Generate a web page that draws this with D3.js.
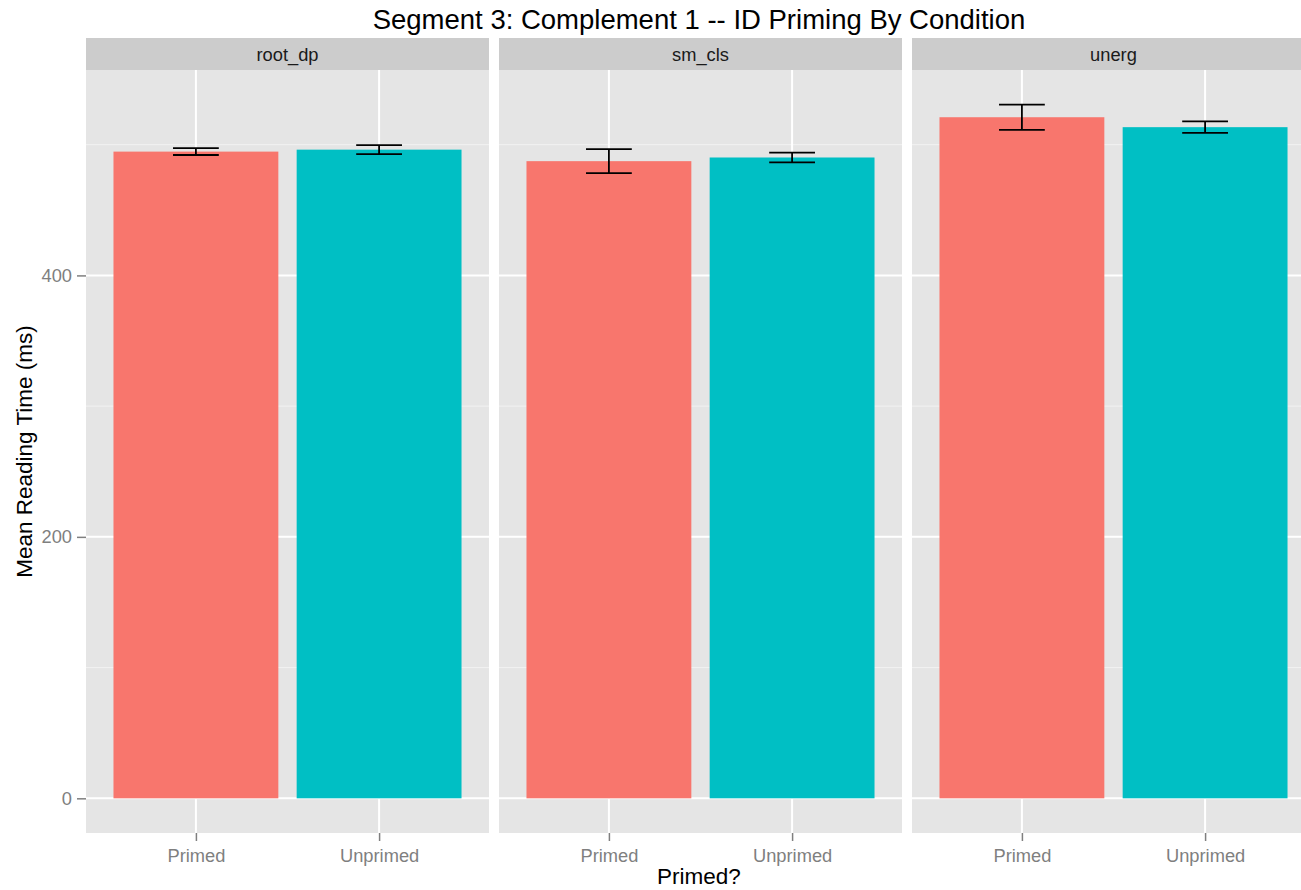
<!DOCTYPE html>
<html>
<head>
<meta charset="utf-8">
<script src="https://cdn.jsdelivr.net/npm/d3@7"></script>
<style>
  html, body { margin: 0; padding: 0; background: #fff; overflow: hidden; }
  svg { display: block; font-family: "Liberation Sans", Arial, Helvetica, sans-serif; }
</style>
</head>
<body>
<svg id="chart" width="1301" height="890"></svg>
<script>
// Facets, x categories, and per-cell mean reading time with standard error
const conditions = ["root_dp", "sm_cls", "unerg"];
const primedLevels = ["Primed", "Unprimed"];
const meanRT = [
  [494.7, 496.2],   // root_dp
  [487.4, 490.2],   // sm_cls
  [521.0, 513.4]    // unerg
];
const seRT = [
  [2.6, 3.4],
  [9.2, 3.8],
  [9.6, 4.4]
];
const yTicks = [0, 200, 400];
const yMinor = [100, 300, 500];
const fillColors = ["#F8766D", "#00BFC4"];

const titleText = "Segment 3: Complement 1 -- ID Priming By Condition";
const xTitle = "Primed?";
const yTitle = "Mean Reading Time (ms)";

const rows = [];
conditions.forEach((c, i) => primedLevels.forEach((p, j) => {
  rows.push({ cond: c, primed: p, mean: meanRT[i][j], se: seRT[i][j] });
}));

const svg = d3.select("#chart");
const panelTop = 70, panelBottom = 833, stripTop = 38;

// facet panels across the page
const facetX = d3.scaleBand()
  .domain(conditions)
  .range([86, 1315])
  .paddingInner(10 / 413);

// discrete x within a panel (bar width 0.9, ggplot-style expansion)
const innerX = d3.scaleBand()
  .domain(primedLevels)
  .range([0, facetX.bandwidth()])
  .paddingInner(0.1)
  .paddingOuter(0.15);

const yMax = d3.max(rows, d => d.mean + d.se);
const pad = yMax * 0.05;
const y = d3.scaleLinear()
  .domain([-pad, yMax + pad])
  .range([panelBottom, panelTop]);

const color = d3.scaleOrdinal().domain(primedLevels).range(fillColors);

const step = innerX.step();
const center = p => innerX(p) + innerX.bandwidth() / 2;

conditions.forEach(cond => {
  const g = svg.append("g").attr("transform", `translate(${facetX(cond)},0)`);
  const w = facetX.bandwidth();

  // strip
  g.append("rect").attr("x", 0).attr("y", stripTop).attr("width", w)
    .attr("height", panelTop - stripTop).attr("fill", "#cccccc");
  g.append("text").attr("x", w / 2).attr("y", 61).attr("text-anchor", "middle")
    .attr("font-size", 18.3).attr("fill", "#1a1a1a").text(cond);

  // panel background and grid
  g.append("rect").attr("x", 0).attr("y", panelTop).attr("width", w)
    .attr("height", panelBottom - panelTop).attr("fill", "#e5e5e5");
  g.selectAll(".minor").data(yMinor).join("line")
    .attr("x1", 0).attr("x2", w).attr("y1", d => y(d)).attr("y2", d => y(d))
    .attr("stroke", "#f2f2f2").attr("stroke-width", 1);
  g.selectAll(".major").data(yTicks).join("line")
    .attr("x1", 0).attr("x2", w).attr("y1", d => y(d)).attr("y2", d => y(d))
    .attr("stroke", "#ffffff").attr("stroke-width", 2);
  g.selectAll(".vmajor").data(primedLevels).join("line")
    .attr("x1", d => center(d)).attr("x2", d => center(d))
    .attr("y1", panelTop).attr("y2", panelBottom)
    .attr("stroke", "#ffffff").attr("stroke-width", 2);

  const data = rows.filter(r => r.cond === cond);

  // bars
  g.selectAll(".bar").data(data).join("rect")
    .attr("x", d => innerX(d.primed))
    .attr("width", innerX.bandwidth())
    .attr("y", d => y(d.mean))
    .attr("height", d => y(0) - y(d.mean))
    .attr("fill", d => color(d.primed));

  // error bars (width 0.25)
  const half = step * 0.25 / 2;
  const eb = g.selectAll(".eb").data(data).join("g")
    .attr("stroke", "#000").attr("stroke-width", 1.8).attr("fill", "none");
  eb.append("line")
    .attr("x1", d => center(d.primed)).attr("x2", d => center(d.primed))
    .attr("y1", d => y(d.mean + d.se)).attr("y2", d => y(d.mean - d.se));
  eb.append("line")
    .attr("x1", d => center(d.primed) - half).attr("x2", d => center(d.primed) + half)
    .attr("y1", d => y(d.mean + d.se)).attr("y2", d => y(d.mean + d.se));
  eb.append("line")
    .attr("x1", d => center(d.primed) - half).attr("x2", d => center(d.primed) + half)
    .attr("y1", d => y(d.mean - d.se)).attr("y2", d => y(d.mean - d.se));

  // x axis
  const xAxisScale = d3.scalePoint().domain(primedLevels)
    .range([center(primedLevels[0]), center(primedLevels[1])]);
  const xa = g.append("g").attr("transform", `translate(0,${panelBottom})`)
    .call(d3.axisBottom(xAxisScale).tickSize(8).tickPadding(8));
  xa.select(".domain").remove();
  xa.selectAll("line").attr("stroke", "#7f7f7f").attr("stroke-width", 1.5);
  xa.selectAll("text").attr("font-size", 18.3).attr("fill", "#7f7f7f")
    .attr("font-family", null);
});

// y axis on the first panel
const ya = svg.append("g").attr("transform", `translate(${facetX(conditions[0])},0)`)
  .call(d3.axisLeft(y).tickValues(yTicks).tickSize(9).tickPadding(5));
ya.select(".domain").remove();
ya.selectAll("line").attr("stroke", "#7f7f7f").attr("stroke-width", 1.5);
ya.selectAll("text").attr("font-size", 18.3).attr("fill", "#7f7f7f")
  .attr("font-family", null);

// titles
svg.append("text").attr("x", 699).attr("y", 29).attr("text-anchor", "middle")
  .attr("font-size", 27.5).attr("fill", "#000").text(titleText);
svg.append("text").attr("x", 699).attr("y", 884).attr("text-anchor", "middle")
  .attr("font-size", 22.5).attr("fill", "#000").text(xTitle);
svg.append("text")
  .attr("transform", `translate(32,${(panelTop + panelBottom) / 2}) rotate(-90)`)
  .attr("text-anchor", "middle").attr("font-size", 22.5).attr("fill", "#000")
  .text(yTitle);
</script>
</body>
</html>
